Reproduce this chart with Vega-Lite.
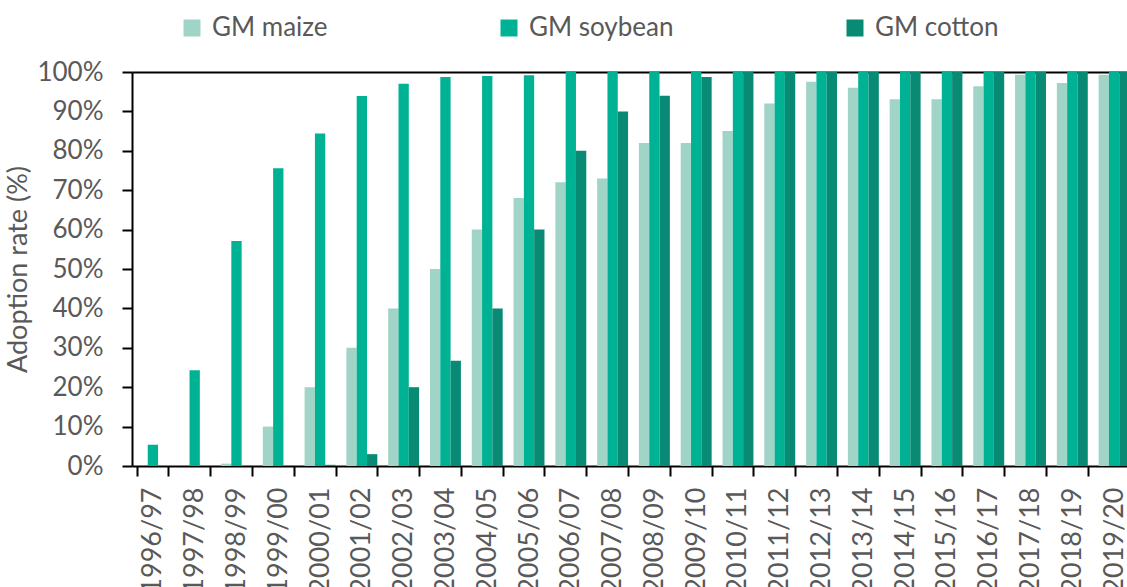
{
  "$schema": "https://vega.github.io/schema/vega-lite/v6.json",
  "width": 1003,
  "height": 394,
  "autosize": "none",
  "padding": {"left": 132, "top": 72, "right": 0, "bottom": 121},
  "background": "white",
  "config": {
    "font": "Lato",
    "view": {"stroke": null},
    "axis": {"labelColor": "#595959", "titleColor": "#595959", "labelFontSize": 26, "titleFontSize": 27, "titleFontWeight": "normal", "domainColor": "black", "domainWidth": 2, "tickColor": "black", "tickWidth": 2, "tickSize": 10, "grid": false, "labelOverlap": false}
  },
  "data": {
    "values": [
      {"season": "1996/97", "crop": "GM maize", "rate": 0},
      {"season": "1996/97", "crop": "GM soybean", "rate": 5.4},
      {"season": "1996/97", "crop": "GM cotton", "rate": 0},
      {"season": "1997/98", "crop": "GM maize", "rate": 0},
      {"season": "1997/98", "crop": "GM soybean", "rate": 24.3},
      {"season": "1997/98", "crop": "GM cotton", "rate": 0},
      {"season": "1998/99", "crop": "GM maize", "rate": 0.6},
      {"season": "1998/99", "crop": "GM soybean", "rate": 57.1},
      {"season": "1998/99", "crop": "GM cotton", "rate": 0},
      {"season": "1999/00", "crop": "GM maize", "rate": 10},
      {"season": "1999/00", "crop": "GM soybean", "rate": 75.6},
      {"season": "1999/00", "crop": "GM cotton", "rate": 0},
      {"season": "2000/01", "crop": "GM maize", "rate": 20},
      {"season": "2000/01", "crop": "GM soybean", "rate": 84.4},
      {"season": "2000/01", "crop": "GM cotton", "rate": 0.3},
      {"season": "2001/02", "crop": "GM maize", "rate": 30},
      {"season": "2001/02", "crop": "GM soybean", "rate": 93.9},
      {"season": "2001/02", "crop": "GM cotton", "rate": 3},
      {"season": "2002/03", "crop": "GM maize", "rate": 40},
      {"season": "2002/03", "crop": "GM soybean", "rate": 97},
      {"season": "2002/03", "crop": "GM cotton", "rate": 20},
      {"season": "2003/04", "crop": "GM maize", "rate": 50},
      {"season": "2003/04", "crop": "GM soybean", "rate": 98.7},
      {"season": "2003/04", "crop": "GM cotton", "rate": 26.7},
      {"season": "2004/05", "crop": "GM maize", "rate": 60},
      {"season": "2004/05", "crop": "GM soybean", "rate": 99},
      {"season": "2004/05", "crop": "GM cotton", "rate": 40},
      {"season": "2005/06", "crop": "GM maize", "rate": 68},
      {"season": "2005/06", "crop": "GM soybean", "rate": 99.2},
      {"season": "2005/06", "crop": "GM cotton", "rate": 60},
      {"season": "2006/07", "crop": "GM maize", "rate": 72},
      {"season": "2006/07", "crop": "GM soybean", "rate": 100},
      {"season": "2006/07", "crop": "GM cotton", "rate": 80},
      {"season": "2007/08", "crop": "GM maize", "rate": 73},
      {"season": "2007/08", "crop": "GM soybean", "rate": 100},
      {"season": "2007/08", "crop": "GM cotton", "rate": 90},
      {"season": "2008/09", "crop": "GM maize", "rate": 82},
      {"season": "2008/09", "crop": "GM soybean", "rate": 100},
      {"season": "2008/09", "crop": "GM cotton", "rate": 94},
      {"season": "2009/10", "crop": "GM maize", "rate": 82},
      {"season": "2009/10", "crop": "GM soybean", "rate": 100},
      {"season": "2009/10", "crop": "GM cotton", "rate": 98.7},
      {"season": "2010/11", "crop": "GM maize", "rate": 85},
      {"season": "2010/11", "crop": "GM soybean", "rate": 100},
      {"season": "2010/11", "crop": "GM cotton", "rate": 100},
      {"season": "2011/12", "crop": "GM maize", "rate": 92},
      {"season": "2011/12", "crop": "GM soybean", "rate": 100},
      {"season": "2011/12", "crop": "GM cotton", "rate": 100},
      {"season": "2012/13", "crop": "GM maize", "rate": 97.5},
      {"season": "2012/13", "crop": "GM soybean", "rate": 100},
      {"season": "2012/13", "crop": "GM cotton", "rate": 100},
      {"season": "2013/14", "crop": "GM maize", "rate": 96},
      {"season": "2013/14", "crop": "GM soybean", "rate": 100},
      {"season": "2013/14", "crop": "GM cotton", "rate": 100},
      {"season": "2014/15", "crop": "GM maize", "rate": 93.1},
      {"season": "2014/15", "crop": "GM soybean", "rate": 100},
      {"season": "2014/15", "crop": "GM cotton", "rate": 100},
      {"season": "2015/16", "crop": "GM maize", "rate": 93.1},
      {"season": "2015/16", "crop": "GM soybean", "rate": 100},
      {"season": "2015/16", "crop": "GM cotton", "rate": 100},
      {"season": "2016/17", "crop": "GM maize", "rate": 96.4},
      {"season": "2016/17", "crop": "GM soybean", "rate": 100},
      {"season": "2016/17", "crop": "GM cotton", "rate": 100},
      {"season": "2017/18", "crop": "GM maize", "rate": 99.3},
      {"season": "2017/18", "crop": "GM soybean", "rate": 100},
      {"season": "2017/18", "crop": "GM cotton", "rate": 100},
      {"season": "2018/19", "crop": "GM maize", "rate": 97.2},
      {"season": "2018/19", "crop": "GM soybean", "rate": 100},
      {"season": "2018/19", "crop": "GM cotton", "rate": 100},
      {"season": "2019/20", "crop": "GM maize", "rate": 99.3},
      {"season": "2019/20", "crop": "GM soybean", "rate": 100},
      {"season": "2019/20", "crop": "GM cotton", "rate": 100}
    ]
  },
  "mark": {"type": "bar"},
  "encoding": {
    "x": {
      "field": "season", "type": "nominal", "sort": null,
      "scale": {"paddingInner": 0.26, "paddingOuter": 0.13},
      "axis": {"title": null, "labelAngle": -90, "labelAlign": "right", "labelBaseline": "middle", "labelPadding": 11, "labelFontSize": 27, "tickBand": "extent"}
    },
    "xOffset": {"field": "crop", "type": "nominal", "sort": ["GM maize", "GM soybean", "GM cotton"]},
    "y": {
      "field": "rate", "type": "quantitative",
      "scale": {"domain": [0, 100], "nice": false},
      "axis": {
        "title": "Adoption rate (%)",
        "values": [0, 10, 20, 30, 40, 50, 60, 70, 80, 90, 100],
        "labelExpr": "datum.value + '%'",
        "labelPadding": 19, "titlePadding": 4, "labelOverlap": false,
        "grid": true, "gridColor": "black", "gridWidth": 2,
        "gridOpacity": {"condition": {"test": "datum.value === 100", "value": 1}, "value": 0}
      }
    },
    "color": {
      "field": "crop", "type": "nominal",
      "scale": {"domain": ["GM maize", "GM soybean", "GM cotton"], "range": ["#a0d4c7", "#00b294", "#088a74"]},
      "legend": {"title": null, "orient": "none", "direction": "horizontal", "legendX": 47, "legendY": -57, "columnPadding": 168, "labelFontSize": 26, "labelColor": "#595959", "symbolType": "square", "symbolSize": 289, "symbolStrokeWidth": 0, "labelOffset": 7}
    }
  }
}
